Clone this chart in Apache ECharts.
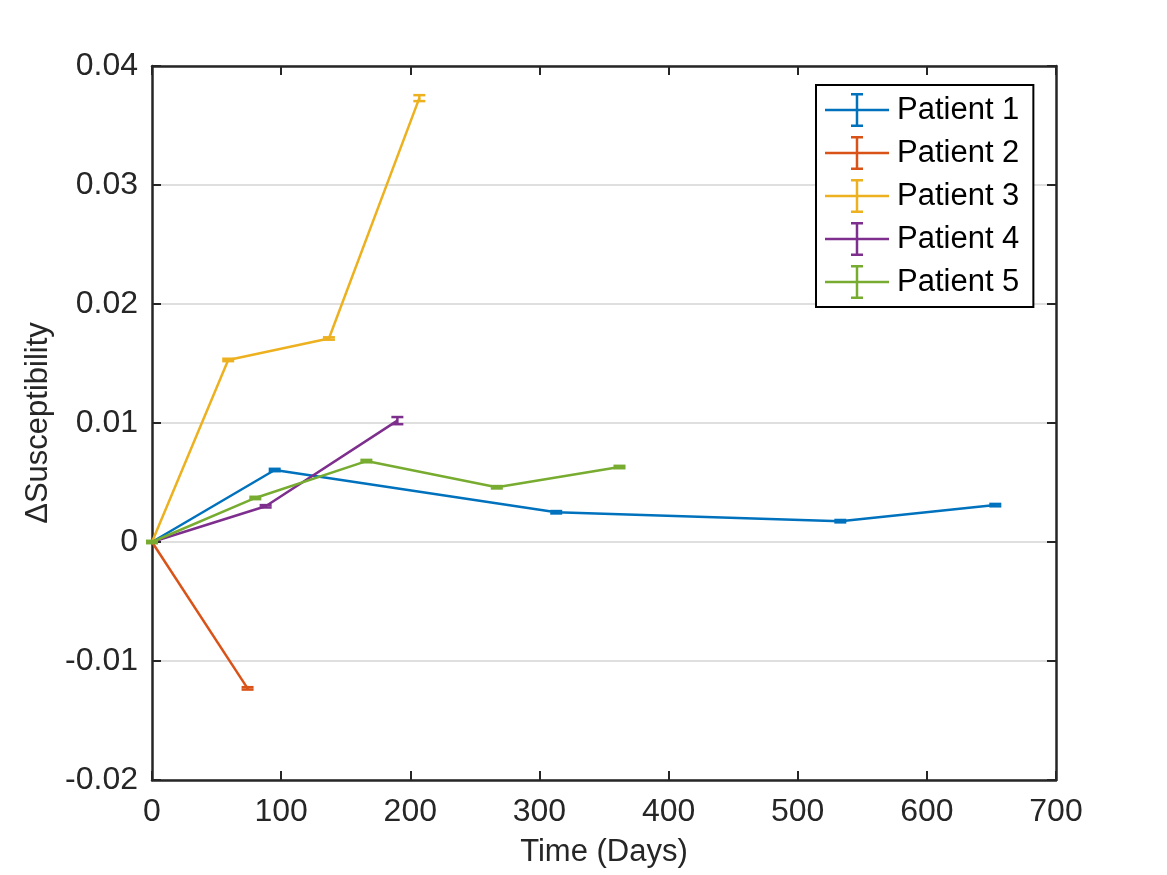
<!DOCTYPE html>
<html>
<head>
<meta charset="utf-8">
<script src="https://cdn.jsdelivr.net/npm/echarts@6/dist/echarts.min.js"></script>
<style>html,body{margin:0;padding:0;background:#fff;}#chart{width:1167px;height:875px;}</style>
</head>
<body>
<div id="chart"></div>
<script>
// ---- data ----
const patientNames = ['Patient 1', 'Patient 2', 'Patient 3', 'Patient 4', 'Patient 5'];
const p1Days = [0, 95, 313, 533, 653];
const p1Vals = [0, 0.00605, 0.0025, 0.00175, 0.0031];
const p1Errs = [0, 0.0001, 0.0001, 0.0001, 0.0001];
const p2Days = [0, 74];
const p2Vals = [0, -0.0123];
const p2Errs = [0, 0.0001];
const p3Days = [0, 59, 137, 207];
const p3Vals = [0, 0.0153, 0.0171, 0.0373];
const p3Errs = [0, 0.0001, 0.0001, 0.00025];
const p4Days = [0, 88, 190];
const p4Vals = [0, 0.003, 0.0102];
const p4Errs = [0, 0.0001, 0.0003];
const p5Days = [0, 80, 166, 267, 362];
const p5Vals = [0, 0.0037, 0.0068, 0.0046, 0.0063];
const p5Errs = [0.0001, 0.0001, 0.0001, 0.0001, 0.0001];
const xTicks = [0, 100, 200, 300, 400, 500, 600, 700];
const yTicks = [-0.02, -0.01, 0, 0.01, 0.02, 0.03, 0.04];

const colors = ['#0072BD', '#D95319', '#EDB120', '#7E2F8E', '#77AC30'];
const patients = [
  [p1Days, p1Vals, p1Errs],
  [p2Days, p2Vals, p2Errs],
  [p3Days, p3Vals, p3Errs],
  [p4Days, p4Vals, p4Errs],
  [p5Days, p5Vals, p5Errs]
];

const FONT = '"Liberation Sans", Arial, Helvetica, sans-serif';
const TXT = '#262626';
const AX = '#262626';
const errIcon = 'path://M0,15.75h64v2.5h-64z M30.75,0h2.5v34h-2.5z M26,0h12v2.5h-12z M26,31.5h12v2.5h-12z';

const series = [];
patients.forEach((p, i) => {
  const [d, v, e] = p;
  series.push({
    name: patientNames[i],
    type: 'line',
    data: d.map((x, k) => [x, v[k]]),
    symbol: 'none',
    lineStyle: { color: colors[i], width: 2.5 },
    itemStyle: { color: colors[i] },
    z: 3,
    animation: false
  });
  series.push({
    name: patientNames[i] + ' err',
    type: 'custom',
    data: d.map((x, k) => [x, v[k] - e[k], v[k] + e[k]]),
    encode: { x: 0, y: [1, 2] },
    z: 4,
    animation: false,
    renderItem: function (params, api) {
      const lo = api.coord([api.value(0), api.value(1)]);
      const hi = api.coord([api.value(0), api.value(2)]);
      const hw = 6;
      const st = { stroke: colors[i], lineWidth: 2.5 };
      return {
        type: 'group',
        children: [
          { type: 'line', shape: { x1: lo[0], y1: lo[1], x2: hi[0], y2: hi[1] }, style: st },
          { type: 'line', shape: { x1: lo[0] - hw, y1: lo[1], x2: lo[0] + hw, y2: lo[1] }, style: st },
          { type: 'line', shape: { x1: hi[0] - hw, y1: hi[1], x2: hi[0] + hw, y2: hi[1] }, style: st }
        ]
      };
    }
  });
});

const chart = echarts.init(document.getElementById('chart'));
chart.setOption({
  backgroundColor: '#fff',
  animation: false,
  grid: { left: 152, right: 111, top: 66, bottom: 95, containLabel: false },
  legend: {
    data: patientNames.map((n, i) => ({ name: n, icon: errIcon, itemStyle: { color: colors[i] } })),
    orient: 'vertical',
    left: 816,
    top: 85,
    itemWidth: 64,
    itemHeight: 34,
    itemGap: 9,
    padding: [8, 14, 8, 9],
    borderColor: '#000',
    borderWidth: 2,
    backgroundColor: '#fff',
    selectedMode: false,
    textStyle: { fontFamily: FONT, fontSize: 31, lineHeight: 34, color: '#000', padding: [0, 0, 0, 3] },
    z: 10
  },
  xAxis: [{
    type: 'value', min: 0, max: 700, interval: 100,
    name: 'Time (Days)', nameLocation: 'middle', nameGap: 57,
    nameTextStyle: { fontFamily: FONT, fontSize: 31, color: TXT, verticalAlign: 'top' },
    axisLine: { show: true, onZero: false, lineStyle: { color: AX, width: 2.5 } },
    axisTick: { show: true, inside: true, length: 9, lineStyle: { color: AX, width: 2 } },
    axisLabel: { margin: 16, fontFamily: FONT, fontSize: 32, color: TXT,
      customValues: xTicks, formatter: v => String(v) },
    splitLine: { show: false }
  }, {
    type: 'value', min: 0, max: 700, interval: 100, position: 'top',
    axisLine: { show: true, onZero: false, lineStyle: { color: AX, width: 2.5 } },
    axisTick: { show: true, inside: true, length: 9, lineStyle: { color: AX, width: 2 } },
    axisLabel: { show: false },
    splitLine: { show: false }
  }],
  yAxis: [{
    type: 'value', min: -0.02, max: 0.04, interval: 0.01,
    name: '\u0394Susceptibility', nameLocation: 'middle', nameGap: 97, nameRotate: 90,
    nameTextStyle: { fontFamily: FONT, fontSize: 31, color: TXT },
    axisLine: { show: true, onZero: false, lineStyle: { color: AX, width: 2.5 } },
    axisTick: { show: true, inside: true, length: 9, lineStyle: { color: AX, width: 2 } },
    axisLabel: { margin: 14, fontFamily: FONT, fontSize: 32, color: TXT,
      customValues: yTicks,
      formatter: v => Math.abs(v) < 1e-9 ? '0' : v.toFixed(2) },
    splitLine: { show: true, lineStyle: { color: '#dfdfdf', width: 2 } }
  }, {
    type: 'value', min: -0.02, max: 0.04, interval: 0.01, position: 'right',
    axisLine: { show: true, onZero: false, lineStyle: { color: AX, width: 2.5 } },
    axisTick: { show: true, inside: true, length: 9, lineStyle: { color: AX, width: 2 } },
    axisLabel: { show: false },
    splitLine: { show: false }
  }],
  series: series
});
</script>
</body>
</html>
